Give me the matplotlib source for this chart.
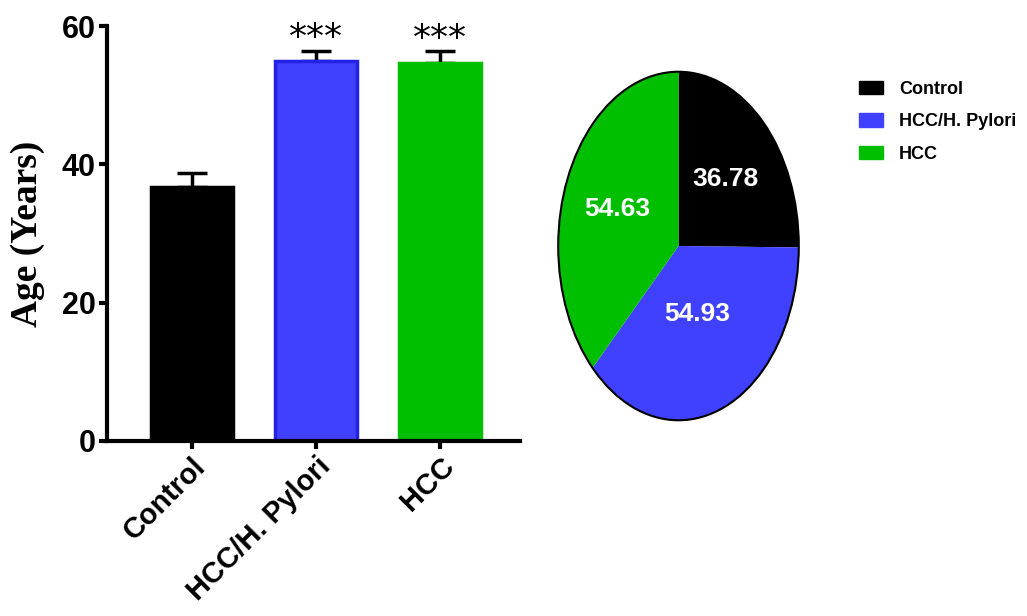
import matplotlib
matplotlib.use("Agg")
import matplotlib.pyplot as plt
from matplotlib.patches import Circle, Patch
from matplotlib.font_manager import FontProperties

groups = ["Control", "HCC/H. Pylori", "HCC"]
ages = [36.78, 54.93, 54.63]
sem = [1.9, 1.5, 1.7]
stars = ["", "***", "***"]
pie_labels = ["36.78", "54.93", "54.63"]

colors = ["#000000", "#4040ff", "#00be00"]
edges = ["#000000", "#2222e6", "#00be00"]

W, H = 1027, 616
fig = plt.figure(figsize=(W / 100, H / 100), dpi=100)

sans = ["Liberation Sans", "DejaVu Sans"]

# Bar chart
ax = fig.add_axes([107 / W, 1 - 441 / H, 413 / W, 415 / H])
x = list(range(len(groups)))
ax.bar(x, ages, width=0.66, color=colors, edgecolor=edges, linewidth=2.5, zorder=2)
ax.errorbar(x, ages, yerr=[[0] * 3, sem], fmt="none", ecolor="black",
            elinewidth=2.5, capsize=11, capthick=2.5, zorder=1)
for xi, a, e, s in zip(x, ages, sem, stars):
    if s:
        ax.text(xi, a + e + 1.8, s, ha="center", va="center", fontsize=26,
                family="DejaVu Sans")

ax.set_xlim(-0.68, 2.64)
ax.set_ylim(0, 60)
ax.set_yticks([0, 20, 40, 60])
ax.set_xticks(x)
ax.set_xticklabels(groups, rotation=45, ha="right", va="top",
                   rotation_mode="anchor", family=sans, fontsize=21,
                   fontweight="bold")
for lab in ax.get_yticklabels():
    lab.set_family(sans)
    lab.set_fontsize(22)
    lab.set_fontweight("bold")
for sp in ["top", "right"]:
    ax.spines[sp].set_visible(False)
for sp in ["left", "bottom"]:
    ax.spines[sp].set_linewidth(3)
ax.tick_params(width=3, length=6, pad=2)
ax.set_ylabel("Age (Years)", family=["Liberation Serif", "DejaVu Serif"],
              fontsize=27, fontweight="bold", labelpad=12)

# Pie chart (stretched into an ellipse)
pax = fig.add_axes([557 / W, 1 - 422 / H, 243 / W, 352 / H])
wedges, texts, autotexts = pax.pie(
    ages, colors=colors, startangle=90, counterclock=False,
    autopct="%1.1f", pctdistance=0.55, wedgeprops=dict(linewidth=0))
for t, lab in zip(autotexts, pie_labels):
    t.set_text(lab)
    t.set_color("white")
    t.set_fontsize(19)
    t.set_family(sans)
    t.set_fontweight("bold")
# nudge the blue label up a little, like the original
bx, by = autotexts[1].get_position()
autotexts[1].set_position((bx - 0.05, by + 0.12))
pax.add_patch(Circle((0, 0), 1, fill=False, edgecolor="black", linewidth=1.5))
pax.set_aspect("auto")
pax.set_xlim(-1.01, 1.01)
pax.set_ylim(-1.01, 1.01)

handles = [Patch(facecolor=c, edgecolor=c) for c in colors]
fig.legend(handles, groups, loc="upper left",
           bbox_to_anchor=(850 / W, 1 - 72 / H), frameon=False,
           handlelength=1.3, handleheight=0.75, handletextpad=0.9,
           labelspacing=0.85, borderpad=0,
           prop=FontProperties(family=sans, weight="bold", size=13))

fig.savefig("out.png", dpi=100)
